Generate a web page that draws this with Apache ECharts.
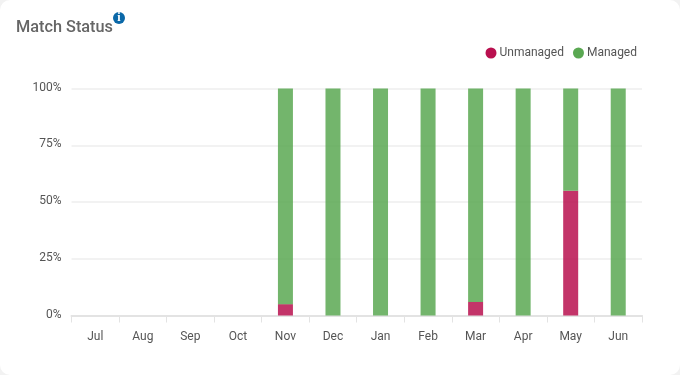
<!DOCTYPE html>
<html><head><meta charset="utf-8">
<style>html,body{margin:0;padding:0;background:#f2f2f2}#c{position:absolute;left:0;top:0;width:680px;height:375px;background:#fff;border-radius:10px}</style>
<script src="https://cdn.jsdelivr.net/npm/echarts@6/dist/echarts.min.js"></script>
</head><body><div id="c"></div>
<script>
const months = ['Jul','Aug','Sep','Oct','Nov','Dec','Jan','Feb','Mar','Apr','May','Jun'];
const unmanaged = [0,0,0,0,5,0,0,0,6,0,55,0];
const managed = [0,0,0,0,95,100,100,100,94,100,45,100];
const yTicks = [0,25,50,75,100];
const font = 'Roboto';
const chart = echarts.init(document.getElementById('c'), null, {renderer:'canvas'});
chart.setOption({
  animation:false,
  backgroundColor:'transparent',
  title:{text:'Match Status',left:11,top:15,textStyle:{fontFamily:font,fontSize:16.3,fontWeight:500,color:'#666666'}},
  legend:{right:38,top:42,itemWidth:11,itemHeight:11,itemGap:9,icon:'circle',
    textStyle:{fontFamily:font,fontSize:12,color:'#555555',padding:[0,0,0,-2]},
    data:[{name:'Unmanaged',itemStyle:{opacity:1}},{name:'Managed',itemStyle:{opacity:1}}]},
  grid:{left:71.5,right:38,top:88.5,bottom:59.5},
  xAxis:{type:'category',data:months,boundaryGap:true,
    axisLine:{lineStyle:{color:'#e3e3e3',width:2}},
    axisTick:{show:true,length:7,lineStyle:{color:'#e3e3e3',width:1}},
    axisLabel:{fontFamily:font,fontSize:12,color:'#555555',margin:15}},
  yAxis:{type:'value',min:yTicks[0],max:yTicks[4],interval:25,
    axisLine:{show:false},axisTick:{show:false},
    axisLabel:{fontFamily:font,fontSize:12,color:'#555555',margin:10,verticalAlign:'bottom',lineHeight:2,formatter:'{value}%'},
    splitLine:{lineStyle:{color:'#eeeeee',width:1.5}}},
  series:[
    {name:'Unmanaged',type:'bar',stack:'s',data:unmanaged,barWidth:15,itemStyle:{color:'#b9104f',opacity:0.85}},
    {name:'Managed',type:'bar',stack:'s',data:managed,barWidth:15,itemStyle:{color:'#5aa852',opacity:0.85}}
  ],
  graphic:[
    {type:'circle',shape:{cx:119,cy:18,r:6},style:{fill:'#0a68a8'}},
    {type:'text',style:{x:119,y:18,text:'i',align:'center',verticalAlign:'middle',fill:'#fff',font:'bold 12px "Liberation Serif"'}}
  ]
});
</script></body></html>
